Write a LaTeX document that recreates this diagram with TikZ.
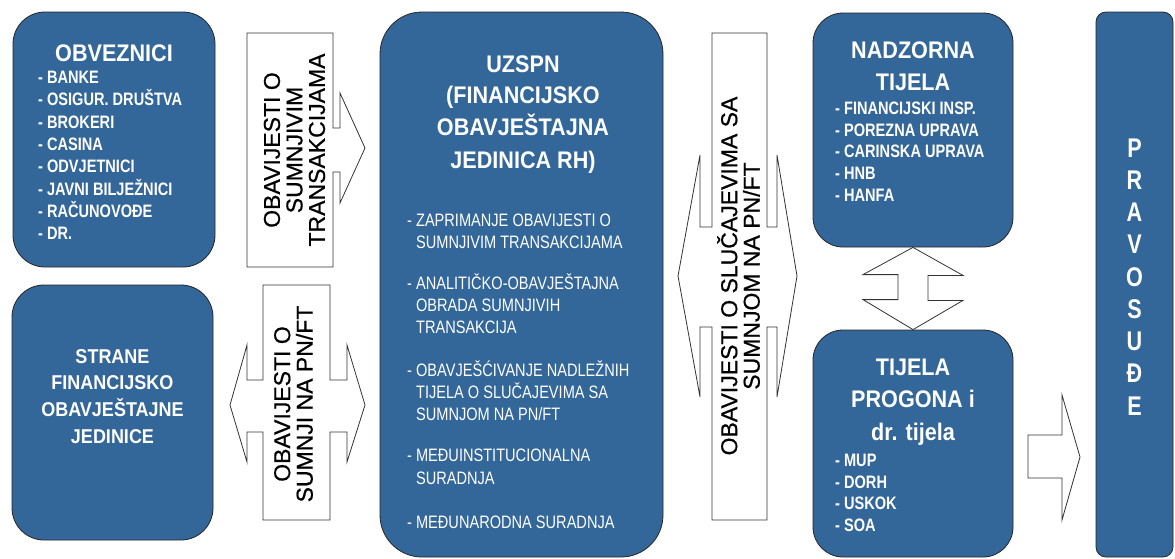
\documentclass[tikz,border=0pt]{standalone}
\usepackage{fontspec}
\setmainfont{Liberation Sans}
\newfontfamily\condfont[FakeStretch=0.81]{Liberation Sans}
\newfontfamily\ttlfont[FakeStretch=0.9]{Liberation Sans}
\newfontfamily\pvfont[FakeStretch=0.8]{Liberation Sans}
\newfontfamily\arrfont[FakeBold=0.6]{Liberation Sans}
\definecolor{boxblue}{HTML}{336699}
\begin{document}
\begin{tikzpicture}[x=1pt,y=-1pt,
  box/.style={draw=black!85, line width=0.8pt, fill=boxblue, inner sep=0pt, rounded corners=#1},
  box/.default=30pt,
  ttl/.style={text=white, font=\ttlfont\bfseries\fontsize{24}{32}\selectfont, anchor=base, inner sep=0pt},
  ttlb/.style={text=white, font=\ttlfont\bfseries\fontsize{20}{26}\selectfont, anchor=base, inner sep=0pt},
  item/.style={text=white, font=\condfont\fontsize{18}{22}\selectfont, anchor=base west, inner sep=0pt},
  itemb/.style={text=white, font=\condfont\bfseries\fontsize{18}{22}\selectfont, anchor=base west, inner sep=0pt},
  pv/.style={text=white, font=\pvfont\bfseries\fontsize{27}{32}\selectfont, anchor=base, inner sep=0pt},
  arrtxt/.style={rotate=90, align=center, font=\arrfont\fontsize{23}{22.5}\selectfont, inner sep=0pt},
  blockarrow/.style={draw=black!80, fill=white, line width=0.8pt, line join=miter}]
\useasboundingbox (0,0) rectangle (1175,558);

% boxes
\node[box=32pt, minimum width=202pt, minimum height=255pt] (obv) at (114,139.5) {};
\node[box=32pt, minimum width=201pt, minimum height=255pt] (str) at (112.5,412.5) {};
\node[box=42pt, minimum width=283pt, minimum height=545pt] (uz) at (521.5,284.5) {};
\node[box=30pt, minimum width=200pt, minimum height=234pt] (nad) at (913,130) {};
\node[box=30pt, minimum width=200pt, minimum height=227pt] (tij) at (913,443.5) {};
\node[box=10pt, minimum width=77pt, minimum height=545pt] (pra) at (1134.5,284.5) {};

% block arrows
\draw[blockarrow] (247,33) -- (333,33) -- (333,128) -- (340,128) -- (340,93) -- (365,148)
  -- (340,203) -- (340,172) -- (333,172) -- (333,267) -- (247,267) -- cycle;
\draw[blockarrow] (263,285) -- (330,285) -- (330,380) -- (347,380) -- (347,345) -- (365,405)
  -- (347,462) -- (347,432) -- (330,432) -- (330,520) -- (263,520) -- (263,432) -- (247,432)
  -- (247,462) -- (230,405) -- (247,345) -- (247,380) -- (263,380) -- cycle;
\draw[blockarrow] (712,33) -- (767,33) -- (767,227) -- (777,227) -- (777,155) -- (797,276)
  -- (777,397) -- (777,327) -- (767,327) -- (767,520) -- (712,520) -- (712,327) -- (700,327)
  -- (700,397) -- (678,276) -- (700,155) -- (700,227) -- (712,227) -- cycle;
\draw[blockarrow] (nad.south) -- ++(50,28) -- ++(-35,0) -- ++(0,25) -- ++(35,0) -- (tij.north)
  -- ++(-50,-30) -- ++(35,0) -- ++(0,-25) -- ++(-35,0) -- cycle;
\draw[blockarrow] (1028,435) -- (1062,435) -- (1062,395) -- (1080,457) -- (1062,520)
  -- (1062,478) -- (1028,478) -- cycle;

% arrow texts
\node[arrtxt] (a1) at (294.5,150) {OBAVIJESTI O\\SUMNJIVIM\\TRANSAKCIJAMA};
\node[arrtxt] (a2) at (293.5,404) {OBAVIJESTI O\\SUMNJI NA PN/FT};
\node[arrtxt] (a3) at (738.5,276) {OBAVIJESTI O SLUČAJEVIMA SA\\SUMNJOM NA PN/FT};

% OBVEZNICI
\node[ttl] (obvt) at (114,61) {OBVEZNICI};
\foreach \t [count=\i from 0] in {BANKE,OSIGUR. DRUŠTVA,BROKERI,CASINA,ODVJETNICI,JAVNI BILJEŽNICI,RAČUNOVOĐE,DR.}
  \node[itemb] (obv\i) at (38,83.5+22.3*\i) {- \t};

% STRANE
\node[ttlb] (st1) at (112.5,363) {STRANE};
\node[ttlb] (st2) at (112.5,389) {FINANCIJSKO};
\node[ttlb] (st3) at (112.5,416) {OBAVJEŠTAJNE};
\node[ttlb] (st4) at (112.5,443) {JEDINICE};

% UZSPN
\node[ttl] (uz1) at (523,72) {UZSPN};
\node[ttl] (uz2) at (523,103.5) {(FINANCIJSKO};
\node[ttl] (uz3) at (523,135.5) {OBAVJEŠTAJNA};
\node[ttl] (uz4) at (523,168) {JEDINICA RH)};
\node[item] (l1) at (407,226.5) {- ZAPRIMANJE OBAVIJESTI O};
\node[item] (l2) at (407,248.5) {\phantom{- }SUMNJIVIM TRANSAKCIJAMA};
\node[item] (l3) at (407,289.5) {- ANALITIČKO-OBAVJEŠTAJNA};
\node[item] (l4) at (407,311.5) {\phantom{- }OBRADA SUMNJIVIH};
\node[item] (l5) at (407,333.5) {\phantom{- }TRANSAKCIJA};
\node[item] (l6) at (407,376.5) {- OBAVJEŠĆIVANJE NADLEŽNIH};
\node[item] (l7) at (407,398.5) {\phantom{- }TIJELA O SLUČAJEVIMA SA};
\node[item] (l8) at (407,420) {\phantom{- }SUMNJOM NA PN/FT};
\node[item] (l9) at (407,461.5) {- MEĐUINSTITUCIONALNA};
\node[item] (l10) at (407,484.5) {\phantom{- }SURADNJA};
\node[item] (l11) at (407,528.5) {- MEĐUNARODNA SURADNJA};

% NADZORNA TIJELA
\node[ttl] (nd1) at (913,58) {NADZORNA};
\node[ttl] (nd2) at (913,90) {TIJELA};
\foreach \t [count=\i from 0] in {FINANCIJSKI INSP.,POREZNA UPRAVA,CARINSKA UPRAVA,HNB,HANFA}
  \node[itemb] (nad\i) at (835,114.5+21.7*\i) {- \t};

% TIJELA PROGONA
\node[ttl] (tp1) at (913,375) {TIJELA};
\node[ttl] (tp2) at (913,407) {PROGONA i};
\node[ttl] (tp3) at (913,440) {dr. tijela};
\foreach \t [count=\i from 0] in {MUP,DORH,USKOK,SOA}
  \node[itemb] (tij\i) at (835,466.5+21.7*\i) {- \t};

% PRAVOSUDE
\foreach \t [count=\i from 0] in {P,R,A,V,O,S,U,Đ,E}
  \node[pv] (pv\i) at (1134.5,157+32.25*\i) {\t};
\end{tikzpicture}
\end{document}
